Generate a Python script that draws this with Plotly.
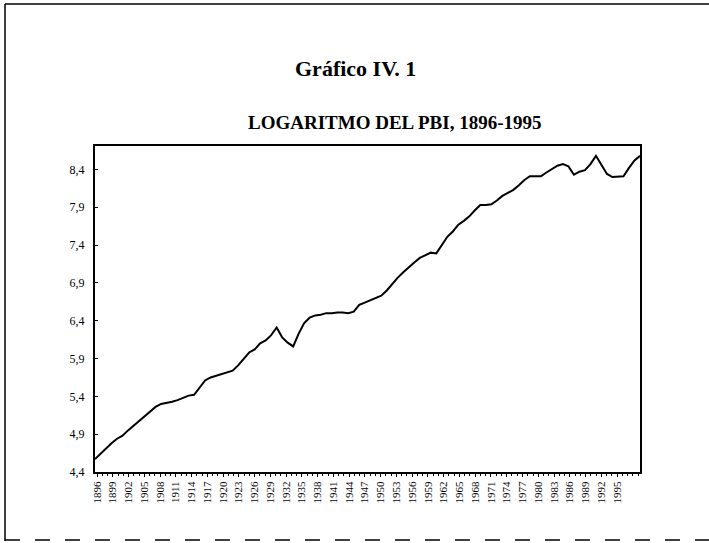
import plotly.graph_objects as go

years = list(range(1896, 1996))
log_pbi = [
    4.57, 4.64, 4.72, 4.78, 4.84, 4.88, 4.95, 5.01, 5.08, 5.14,
    5.20, 5.26, 5.30, 5.31, 5.33, 5.35, 5.38, 5.41, 5.42, 5.52,
    5.61, 5.65, 5.67, 5.69, 5.71, 5.74, 5.81, 5.89, 5.98, 6.02,
    6.10, 6.14, 6.21, 6.31, 6.18, 6.11, 6.06, 6.23, 6.37, 6.44,
    6.47, 6.48, 6.50, 6.50, 6.51, 6.51, 6.50, 6.52, 6.61, 6.64,
    6.67, 6.70, 6.73, 6.80, 6.89, 6.97, 7.04, 7.11, 7.17, 7.23,
    7.27, 7.30, 7.29, 7.40, 7.51, 7.58, 7.67, 7.72, 7.78, 7.86,
    7.93, 7.93, 7.94, 7.99, 8.05, 8.09, 8.13, 8.19, 8.26, 8.31,
    8.31, 8.31, 8.36, 8.40, 8.45, 8.47, 8.44, 8.33, 8.37, 8.39,
    8.47, 8.58, 8.46, 8.34, 8.30, 8.30, 8.31, 8.42, 8.52, 8.58,
]
x_tick_years = list(range(1896, 1996, 3))
x_tick_labels = [str(y) for y in x_tick_years]
y_tick_vals = [4.4, 4.9, 5.4, 5.9, 6.4, 6.9, 7.4, 7.9, 8.4]
y_tick_labels = ["4,4", "4,9", "5,4", "5,9", "6,4", "6,9", "7,4", "7,9", "8,4"]

W, H = 709, 543
L, R, T, B = 95, 69, 146, 71
pw, ph = W - L - R, H - T - B

def px(xp):
    return (xp - L) / pw

def py(yp):
    return (H - B - yp) / ph

serif = "Liberation Serif, Times New Roman, serif"

fig = go.Figure()
# helper trace so the labelled category axis is drawn
fig.add_trace(go.Scatter(
    x=x_tick_years, y=[None] * len(x_tick_years), xaxis="x", yaxis="y",
    mode="lines", showlegend=False, hoverinfo="skip",
))
fig.add_trace(go.Scatter(
    x=years, y=log_pbi, xaxis="x2", yaxis="y", mode="lines",
    line=dict(color="black", width=2), showlegend=False, hoverinfo="x+y",
))

fig.update_layout(
    width=W, height=H,
    margin=dict(l=L, r=R, t=T, b=B),
    paper_bgcolor="white", plot_bgcolor="white",
    font=dict(family=serif, color="black"),
    xaxis=dict(
        range=[1895.62, 1999.37],
        tickvals=x_tick_years, ticktext=x_tick_labels,
        tickangle=-90, tickfont=dict(family=serif, size=11, color="black"),
        showline=True, linecolor="black", linewidth=2, mirror=True,
        ticks="outside", ticklen=3, tickcolor="black", tickwidth=1,
        minor=dict(dtick=1, tick0=1896, ticks="outside", ticklen=2, tickcolor="black"),
        showgrid=False, zeroline=False,
    ),
    xaxis2=dict(
        range=[1896, 1995], overlaying="x", anchor="y", visible=False,
    ),
    yaxis=dict(
        range=[4.4, 8.71],
        tickvals=y_tick_vals, ticktext=y_tick_labels,
        tickfont=dict(family=serif, size=12, color="black"),
        showline=True, linecolor="black", linewidth=2, mirror=True,
        ticks="inside", ticklen=3, tickcolor="black",
        ticklabelstandoff=6,
        showgrid=False, zeroline=False,
    ),
    annotations=[
        dict(text="<b>Gráfico IV. 1</b>", xref="paper", yref="paper",
             x=px(355), y=py(68), showarrow=False, xanchor="center", yanchor="middle",
             font=dict(family=serif, size=22, color="black")),
        dict(text="<b>LOGARITMO DEL PBI, 1896-1995</b>", xref="paper", yref="paper",
             x=px(394), y=py(123), showarrow=False, xanchor="center", yanchor="middle",
             font=dict(family=serif, size=19, color="black")),
    ],
    shapes=[
        dict(type="line", xref="paper", yref="paper", x0=px(5), x1=px(5), y0=py(4), y1=py(541),
             line=dict(color="black", width=1.5)),
        dict(type="line", xref="paper", yref="paper", x0=px(5), x1=px(709), y0=py(4), y1=py(4),
             line=dict(color="black", width=1.5)),
        dict(type="line", xref="paper", yref="paper", x0=px(5), x1=px(709), y0=py(540), y1=py(540),
             line=dict(color="black", width=1.5, dash="longdash")),
    ],
)

fig.write_html("out.html", config={"displayModeBar": False},
               post_script="document.body.style.margin='0';")
